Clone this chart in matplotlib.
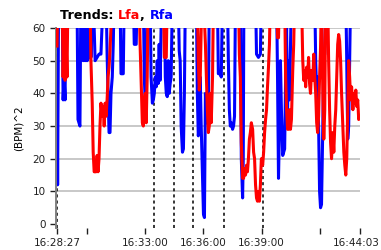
import matplotlib
matplotlib.use('Agg')
import matplotlib.pyplot as plt
import matplotlib.transforms as mtransforms

# tempo em segundos desde 16:28:27, valores em (BPM)^2 (acima de 60 fica fora do grafico)
lfa_t = [0, 3, 16, 19, 22, 25, 28, 31, 34,
         102, 105, 109, 112, 115, 121, 124, 127, 130, 133, 136, 140, 143, 146, 149, 152, 155, 158, 161, 164, 171,
         254, 257, 260, 264, 267, 270, 273, 276, 279, 282,
         329, 332, 338, 341,
         434, 437, 440, 443, 446, 453, 459, 462, 465, 468, 471, 474, 477, 481, 484,
         561, 564, 567, 570, 574, 577, 580, 583, 586, 589, 592, 595, 598, 601, 605, 608, 611, 614, 617, 620,
         623, 626, 629, 632, 636, 639, 642, 645, 648, 651, 654, 657, 660,
         679, 682, 685, 688,
         704, 707, 710, 713, 716, 719, 722, 725, 729, 732, 735,
         756, 760, 763, 766, 769, 772, 775, 778, 781, 784, 787, 791, 794, 797, 800, 803, 806, 809, 812, 815, 818,
         822, 825, 828, 831,
         837, 840, 843, 846, 849, 853, 856, 859, 862, 865, 868, 871, 874, 877, 880, 884, 887, 890, 893, 896,
         899, 902, 905, 908, 911, 915, 918, 921, 924, 927, 930, 933, 936]
lfa_v = [54, 70, 70, 45, 60, 44, 58, 45, 70,
         70, 50, 37, 22, 16, 16, 21, 16, 20, 30, 37, 33, 36, 30, 37, 33, 38, 45, 48, 53, 70,
         70, 55, 45, 31, 30, 38, 40, 31, 45, 70,
         70, 51, 51, 70,
         70, 50, 41, 45, 60, 70, 55, 45, 35, 28, 30, 40, 31, 45, 70,
         70, 52, 45, 25, 14, 14, 17, 15, 18, 16, 20, 26, 28, 31, 29, 22, 20, 12, 8, 7,
         10, 7, 12, 20, 18, 22, 28, 32, 35, 42, 48, 55, 70,
         70, 57, 57, 70,
         70, 45, 35, 29, 29, 35, 29, 32, 47, 55, 70,
         70, 50, 44, 47, 42, 48, 45, 51, 43, 40, 47, 44, 52, 45, 40, 31, 28, 33, 45, 54, 70,
         40, 26, 35, 70,
         70, 50, 35, 25, 20, 28, 22, 30, 35, 45, 55, 58, 56, 50, 40, 30, 22, 18, 15, 20,
         35, 50, 45, 38, 42, 35, 40, 37, 41, 36, 38, 32, 33]

rfa_t = [0, 2, 5, 16, 19, 22, 25, 28,
         62, 65, 71, 74, 78, 81, 84, 87, 90, 93, 99, 102, 105, 109,
         112, 118, 124, 130, 136, 143,
         152, 155, 158, 161, 164, 167, 171, 174, 177,
         195, 198, 205, 208,
         236, 239, 245, 248,
         267, 270, 273, 276, 279,
         288, 291, 295, 298, 301, 304, 307, 310, 313, 316, 319, 322, 326,
         332, 335, 338, 341, 344, 347, 350, 353, 357,
         375, 378, 381, 384, 388, 391, 394, 397,
         431, 434, 437, 440, 443, 446, 450, 453, 456, 459, 462, 465, 468, 471,
         496, 499, 505, 508, 512,
         527, 530, 533, 536, 539, 543, 546, 549, 552,
         567, 570, 574, 576, 578,
         614, 617, 623, 629, 632,
         679, 682, 685, 688, 691, 694, 698, 701, 704, 707, 710, 713, 716, 719, 722, 725,
         797, 800, 803, 806, 809, 812, 815, 818, 822, 825, 828, 831,
         893, 896, 899, 902, 905, 908, 936]
rfa_v = [50, 12, 70, 70, 38, 45, 38, 70,
         70, 32, 30, 70, 70, 50, 65, 50, 70, 50, 51, 70, 51, 70,
         70, 50, 51, 52, 52, 70,
         70, 52, 40, 28, 28, 40, 45, 55, 70,
         70, 46, 46, 70,
         70, 55, 55, 70,
         70, 45, 37, 40, 70,
         70, 45, 37, 38, 40, 45, 42, 50, 43, 55, 44, 60, 70,
         70, 45, 40, 39, 50, 40, 43, 45, 70,
         70, 53, 50, 30, 22, 23, 40, 70,
         70, 40, 27, 30, 45, 30, 15, 3, 2, 40, 31, 35, 31, 70,
         70, 46, 46, 45, 70,
         70, 50, 35, 30, 31, 29, 30, 33, 70,
         70, 20, 8, 20, 70,
         70, 52, 51, 52, 70,
         70, 45, 14, 30, 50, 35, 21, 22, 23, 45, 60, 35, 50, 38, 55, 70,
         70, 50, 40, 45, 30, 10, 5, 6, 30, 51, 52, 70,
         70, 50, 26, 30, 50, 70, 70]

# marcadores de evento (linhas tracejadas)
eventos_t = [0, 301, 363, 422, 515, 636]

ticks_t = [0, 93, 273, 453, 633, 813, 936]
ticks_lbl = ['16:28:27', '', '16:33:00', '16:36:00', '16:39:00', '', '16:44:03']
y_ticks = [0, 10, 20, 30, 40, 50, 60]


def plotar():
    fig = plt.figure(figsize=(3.81, 2.5), dpi=100)
    ax = fig.add_axes([56 / 381, 22 / 250, 304 / 381, 200 / 250])

    for t in eventos_t:
        ax.axvline(t, color='black', lw=1.1, ls=(0, (2, 2)), zorder=1.5)

    ax.plot(rfa_t, rfa_v, color='#0000ff', lw=2.2, solid_joinstyle='round', solid_capstyle='butt', zorder=2)
    ax.plot(lfa_t, lfa_v, color='#ff0000', lw=2.2, solid_joinstyle='round', solid_capstyle='butt', zorder=3)

    ax.set_xlim(-3, 937)
    ax.set_ylim(-1.2, 60)
    ax.set_yticks(y_ticks)
    ax.set_xticks(ticks_t)
    ax.set_xticklabels(ticks_lbl)

    ax.grid(axis='y', color='#c8c8c8', lw=1.4)
    ax.get_ygridlines()[0].set_visible(False)
    ax.set_axisbelow(True)

    for s in ['top', 'right', 'bottom']:
        ax.spines[s].set_visible(False)
    ax.spines['left'].set_color('#808080')
    ax.spines['left'].set_linewidth(1.4)

    ax.tick_params(axis='both', labelsize=7.5, colors='#202020', length=4, width=1)
    ax.set_ylabel('(BPM)^2', fontsize=7.5, labelpad=6)

    # ultimo rotulo um pouco para a esquerda para nao cortar
    ultimo = ax.get_xticklabels()[-1]
    ultimo.set_transform(ultimo.get_transform() + mtransforms.ScaledTranslation(-3 / 100, 0, fig.dpi_scale_trans))

    # titulo com cores diferentes por parte
    t1 = fig.text(60 / 381, 1 - 22 / 250, 'Trends: ', fontsize=9.2, weight='bold', color='black', va='bottom')
    t2 = ax.annotate('Lfa', xycoords=t1, xy=(1, 0), fontsize=9.2, weight='bold', color='#ff0000', va='bottom')
    t3 = ax.annotate(', ', xycoords=t2, xy=(1, 0), fontsize=9.2, weight='bold', color='black', va='bottom')
    ax.annotate('Rfa', xycoords=t3, xy=(1, 0), fontsize=9.2, weight='bold', color='#0000ff', va='bottom')

    fig.savefig('out.png', dpi=100)


if __name__ == '__main__':
    plotar()
